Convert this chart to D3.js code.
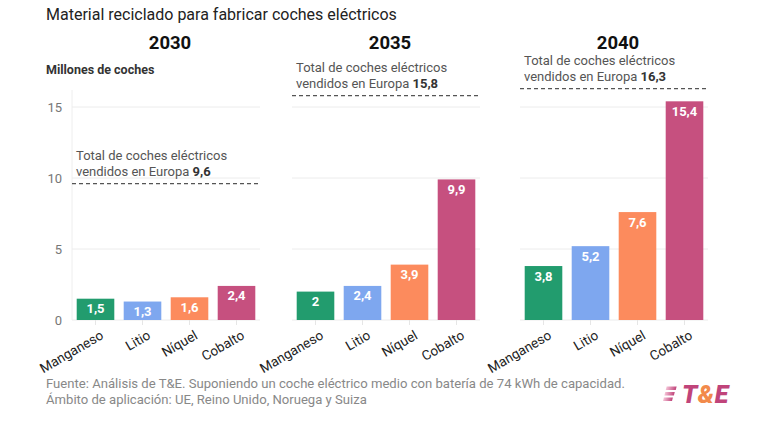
<!DOCTYPE html>
<html>
<head>
<meta charset="utf-8">
<script src="https://cdn.jsdelivr.net/npm/d3@7"></script>
<style>
  html, body { margin: 0; padding: 0; background: #fff; }
  svg { display: block; font-family: Roboto, "Noto Sans", sans-serif; }
</style>
</head>
<body>
<svg id="chart" width="760" height="427"></svg>
<script>
// ---- Data ----
const categories = ["Manganeso", "Litio", "Níquel", "Cobalto"];
const years = ["2030", "2035", "2040"];
const values2030 = [1.5, 1.3, 1.6, 2.4];
const values2035 = [2, 2.4, 3.9, 9.9];
const values2040 = [3.8, 5.2, 7.6, 15.4];
const totals = [9.6, 15.8, 16.3];
const yTicks = [0, 5, 10, 15];
const colors = ["#229c6e", "#7ea7ef", "#fc8b5d", "#c6507f"];
const title = "Material reciclado para fabricar coches eléctricos";
const yTitle = "Millones de coches";
const totalLine1 = "Total de coches eléctricos";
const totalLine2 = "vendidos en Europa ";
const footer1 = "Fuente: Análisis de T&E. Suponiendo un coche eléctrico medio con batería de 74 kWh de capacidad.";
const footer2 = "Ámbito de aplicación: UE, Reino Unido, Noruega y Suiza";

const seriesByYear = [values2030, values2035, values2040];
const fmt = v => d3.format("~g")(v).replace(".", ",");

const svg = d3.select("#chart");

// layout
const panels = [[72, 260], [292, 480], [520, 708]];
const y = d3.scaleLinear().domain([0, 15]).range([320, 107]);

// Title
svg.append("text").attr("x", 46).attr("y", 20)
  .attr("font-size", 16).attr("fill", "#222").text(title);

svg.append("text").attr("x", 46).attr("y", 74)
  .attr("font-size", 12.5).attr("font-weight", 700).attr("fill", "#333").text(yTitle);

// Y axis tick labels (left panel only)
const yAxis = d3.axisLeft(y).tickValues(yTicks).tickSize(0).tickPadding(10).tickFormat(d3.format("d"));
const yg = svg.append("g").attr("transform", "translate(72,0)").call(yAxis);
yg.select(".domain").attr("stroke", "#eee").attr("d", "M0,90V320");
yg.selectAll("text").attr("font-size", 13).attr("fill", "#777").attr("font-family", "Roboto, sans-serif");

panels.forEach((p, i) => {
  const x = d3.scaleBand().domain(categories).range(p).paddingInner(0.2).paddingOuter(0.1);
  const g = svg.append("g");

  // gridlines
  g.selectAll("line.grid").data(yTicks).enter().append("line")
    .attr("x1", p[0]).attr("x2", p[1])
    .attr("y1", d => y(d)).attr("y2", d => y(d))
    .attr("stroke", "#ececec").attr("stroke-width", 1);

  // year heading
  g.append("text").attr("x", (p[0] + p[1]) / 2 + 4).attr("y", 49)
    .attr("text-anchor", "middle").attr("font-size", 18.5).attr("font-weight", 700)
    .attr("fill", "#111").text(years[i]);

  const data = categories.map((c, j) => ({ c, v: seriesByYear[i][j], col: colors[j] }));

  // bars
  g.selectAll("rect.bar").data(data).enter().append("rect")
    .attr("x", d => x(d.c)).attr("width", x.bandwidth())
    .attr("y", d => y(d.v)).attr("height", d => y(0) - y(d.v))
    .attr("fill", d => d.col);

  // value labels
  g.selectAll("text.val").data(data).enter().append("text")
    .attr("x", d => x(d.c) + x.bandwidth() / 2)
    .attr("y", d => y(d.v) + 14.5)
    .attr("text-anchor", "middle").attr("font-size", 13).attr("font-weight", 700)
    .attr("fill", "#fff").text(d => fmt(d.v));

  // x axis
  const xAxis = d3.axisBottom(x).tickSize(5).tickPadding(0);
  const xg = g.append("g").attr("transform", `translate(0,${y(0)})`).call(xAxis);
  xg.select(".domain").remove();
  xg.selectAll(".tick line").attr("stroke", "#e6e6e6");
  xg.selectAll(".tick text")
    .attr("font-size", 13.5).attr("fill", "#222").attr("font-family", "Roboto, sans-serif")
    .attr("text-anchor", "end").attr("dy", 0).attr("y", 0)
    .attr("transform", "translate(9,18) rotate(-30)");

  // total annotation
  const ty = y(totals[i]);
  const tx = p[0] + 4;
  g.append("line").attr("x1", p[0]).attr("x2", p[1]).attr("y1", ty).attr("y2", ty)
    .attr("stroke", "#555").attr("stroke-width", 1.2).attr("stroke-dasharray", "4,3");
  g.append("text").attr("x", tx).attr("y", ty - 24).attr("font-size", 13).attr("fill", "#555")
    .text(totalLine1);
  const t2 = g.append("text").attr("x", tx).attr("y", ty - 8).attr("font-size", 13).attr("fill", "#555");
  t2.append("tspan").text(totalLine2);
  t2.append("tspan").attr("font-weight", 700).attr("fill", "#333").text(fmt(totals[i]));
});

// Footer
svg.append("text").attr("x", 46).attr("y", 388).attr("font-size", 13.1).attr("fill", "#888").text(footer1);
svg.append("text").attr("x", 46).attr("y", 404).attr("font-size", 13.1).attr("fill", "#888").text(footer2);

// Logo
const logo = svg.append("g").attr("transform", "translate(667,385)");
const grad = svg.append("defs").append("linearGradient").attr("id", "lg").attr("x1", "0").attr("x2", "1");
grad.append("stop").attr("offset", "0").attr("stop-color", "#f4c2d6");
grad.append("stop").attr("offset", "1").attr("stop-color", "#c0447a");
[0, 5.5, 11].forEach((yy, k) => {
  logo.append("rect").attr("x", 0).attr("y", yy + 1.5).attr("width", 10 - k * 0.5).attr("height", 3.4)
    .attr("fill", "url(#lg)").attr("transform", "skewX(-14)");
});
const lt = logo.append("text").attr("x", 15).attr("y", 17.5).attr("font-size", 25)
  .attr("font-weight", 900).attr("font-style", "italic").attr("font-family", "Roboto, sans-serif")
  .attr("letter-spacing", 0.5);
lt.append("tspan").attr("fill", "#c0447a").text("T");
lt.append("tspan").attr("fill", "#f28a4b").text("&");
lt.append("tspan").attr("fill", "#c0447a").text("E");
</script>
</body>
</html>
